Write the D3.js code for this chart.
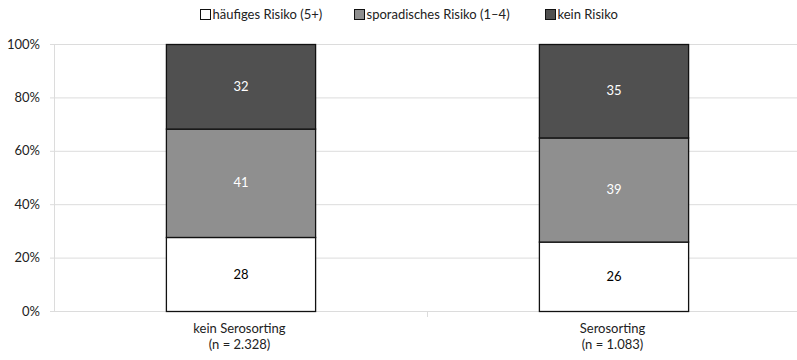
<!DOCTYPE html>
<html><head><meta charset="utf-8">
<script src="https://cdn.jsdelivr.net/npm/d3@7"></script>
<style>body{margin:0;background:#fff}svg{display:block;font-family:Lato,"Open Sans",sans-serif}</style>
</head><body><svg id="c" width="797" height="360"></svg>
<script>
const categories = ["kein Serosorting\n(n = 2.328)", "Serosorting\n(n = 1.083)"];
const seriesNames = ["häufiges Risiko (5+)", "sporadisches Risiko (1–4)", "kein Risiko"];
const haeufig = [28, 26];
const sporadisch = [41, 39];
const kein = [32, 35];
const yTicks = [0, 20, 40, 60, 80, 100];
const colors = ["#ffffff", "#8f8f8f", "#505050"];
const labelColors = ["#000", "#fff", "#fff"];

const svg = d3.select("#c");
const m = {l: 54, t: 44, b: 311, r: 800};
const x = d3.scaleBand().domain(categories).range([m.l, m.r]).padding(0);
const y = d3.scaleLinear().domain([0, 100]).range([m.b, m.t]);
const barW = x.bandwidth() * 0.4;
const fs = 13;

// gridlines
svg.append("g").selectAll("line").data(yTicks).join("line")
  .attr("x1", m.l - 4).attr("x2", m.r).attr("y1", d => y(d) + 0.5).attr("y2", d => y(d) + 0.5)
  .attr("stroke", "#dcdcdc").attr("stroke-width", 1);
svg.append("line").attr("x1", m.l + 0.5).attr("x2", m.l + 0.5).attr("y1", m.t).attr("y2", m.b + 0.5)
  .attr("stroke", "#dcdcdc");
// category dividers
svg.append("g").selectAll("line").data(categories.slice(1)).join("line")
  .attr("x1", d => x(d) + 0.5).attr("x2", d => x(d) + 0.5).attr("y1", m.b).attr("y2", m.b + 6)
  .attr("stroke", "#dcdcdc");

// y labels
svg.append("g").selectAll("text").data(yTicks).join("text")
  .attr("x", 40).attr("y", d => y(d)).attr("dy", "0.35em").attr("text-anchor", "end")
  .attr("font-size", fs).attr("fill", "#222").text(d => d + "%");

// stacked data
const rows = categories.map((c, i) => ({cat: c, v: [haeufig[i], sporadisch[i], kein[i]]}));
rows.forEach(r => {
  const tot = d3.sum(r.v);
  let acc = 0;
  r.segs = r.v.map((v, k) => { const s = {k, v, y0: acc / tot * 100, y1: (acc + v) / tot * 100}; acc += v; return s; });
});

const bars = svg.append("g").selectAll("g").data(rows).join("g")
  .attr("transform", d => `translate(${x(d.cat) + (x.bandwidth() - barW) / 2},0)`);
bars.selectAll("rect").data(d => d.segs).join("rect")
  .attr("x", 0.5).attr("width", barW).attr("y", d => y(d.y1) + 0.5).attr("height", d => y(d.y0) - y(d.y1))
  .attr("fill", d => colors[d.k]).attr("stroke", "#111").attr("stroke-width", 1.3);
bars.selectAll("text").data(d => d.segs).join("text")
  .attr("x", barW / 2 + 0.5).attr("y", d => y((d.y0 + d.y1) / 2)).attr("dy", "0.35em")
  .attr("text-anchor", "middle").attr("font-size", fs).attr("fill", d => labelColors[d.k]).text(d => d.v);

// category labels
const cl = svg.append("g").selectAll("text").data(categories).join("text")
  .attr("x", d => x(d) + x.bandwidth() / 2 - 1).attr("y", 333).attr("text-anchor", "middle")
  .attr("font-size", fs).attr("fill", "#222");
cl.selectAll("tspan").data(d => d.split("\n")).join("tspan")
  .attr("x", function() { return d3.select(this.parentNode).attr("x"); })
  .attr("dy", (d, i) => i ? 16 : 0).text(d => d);

// legend
const legX = [200, 354, 545];
const lg = svg.append("g").selectAll("g").data(seriesNames).join("g")
  .attr("transform", (d, i) => `translate(${legX[i]},9)`);
lg.append("rect").attr("x", 0.5).attr("y", 0.5).attr("width", 10).attr("height", 10)
  .attr("fill", (d, i) => colors[i]).attr("stroke", "#111");
lg.append("text").attr("x", 12.5).attr("y", 5.5).attr("dy", "0.35em").attr("font-size", fs)
  .attr("fill", "#222").text(d => d);
</script></body></html>
